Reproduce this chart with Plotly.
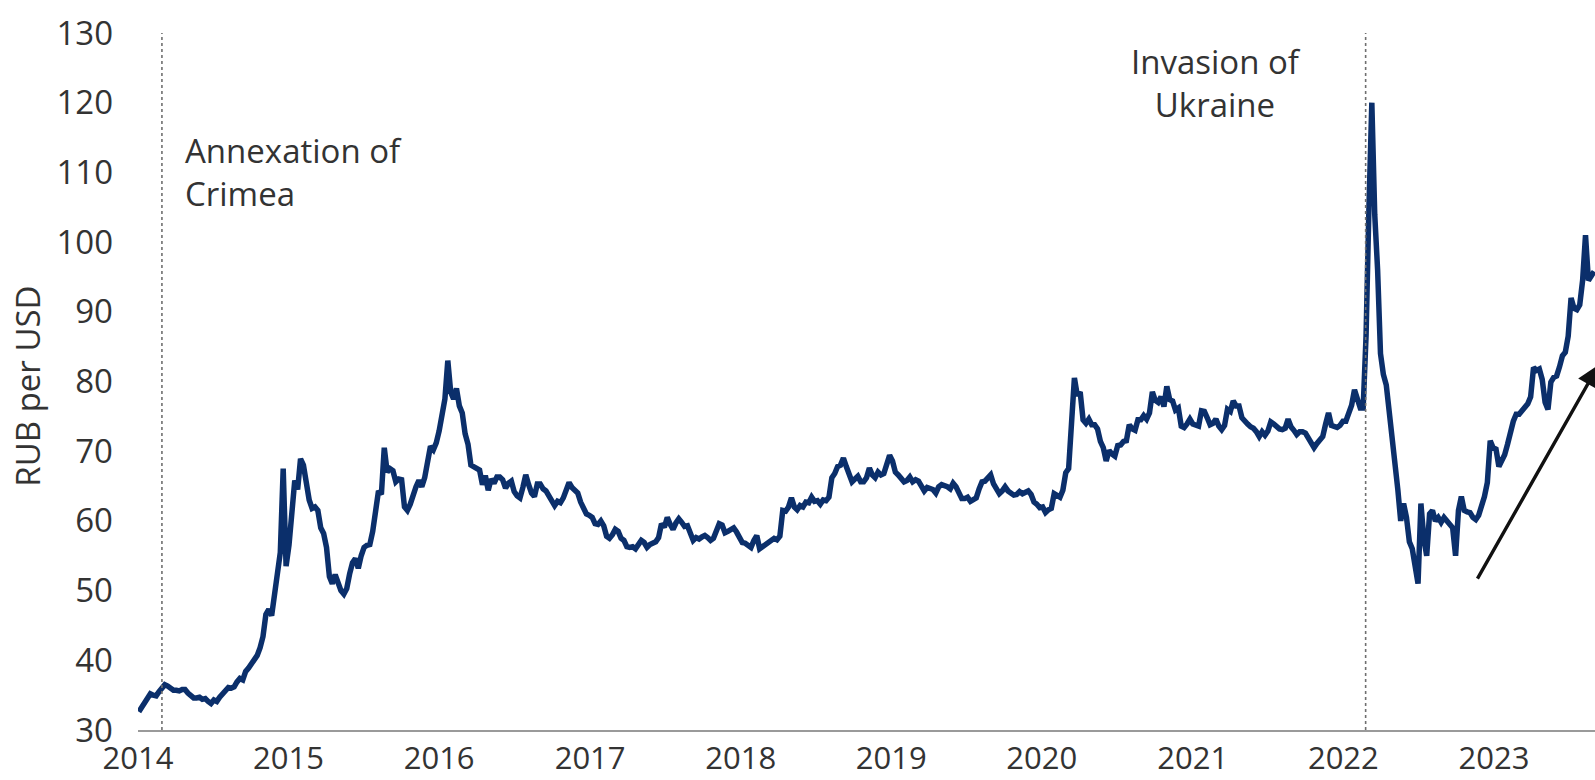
import pandas as pd
import plotly.graph_objects as go

# Weekly (Friday) RUB per USD readings, one list per calendar year
rub_2014 = [32.6, 33.2, 33.8, 34.6, 35.2,
            35.0, 34.9, 35.5, 36.0,
            36.5, 36.3, 36.0, 35.7,
            35.7, 35.6, 35.8, 35.8,
            35.3, 35.0, 34.6, 34.6, 34.7,
            34.4, 34.5, 34.1, 33.8,
            34.3, 34.1, 34.7, 35.2,
            35.7, 36.1, 36.0, 36.2, 36.9,
            37.4, 37.2, 38.4, 38.9,
            39.6, 40.1, 40.7, 41.8, 43.4,
            46.6, 47.3, 46.4, 49.3,
            53.4, 55.5, 67.5, 53.5]
rub_2015 = [56.5, 62.5, 65.8, 64.5, 68.9,
            68.0, 65.5, 63.0, 61.8,
            62.0, 61.5, 59.0, 58.2,
            56.2, 52.0, 51.0, 52.3,
            51.2, 50.0, 49.5, 50.3, 52.4,
            54.0, 54.6, 53.2, 55.0,
            56.2, 56.5, 56.6, 58.5, 61.5,
            64.3, 63.8, 70.5, 67.0,
            67.5, 67.2, 65.6, 66.0,
            65.9, 62.0, 61.5, 62.4, 63.9,
            64.9, 65.8, 64.9, 66.2,
            68.9, 70.7, 70.2, 71.2]
rub_2016 = [72.9, 75.0, 77.5, 83.0, 78.5,
            77.5, 79.0, 76.5, 75.5,
            72.5, 71.0, 68.0, 67.8,
            67.6, 67.3, 65.2, 66.5, 64.4,
            66.0, 65.4, 66.3, 66.3,
            65.9, 64.7, 65.4, 65.7,
            64.2, 63.6, 63.3, 64.8, 66.6,
            65.2, 64.0, 63.5, 65.3,
            65.3, 64.6, 64.3, 63.6, 63.2,
            62.2, 62.8, 62.6, 63.3,
            64.4, 65.5, 64.8, 64.5,
            64.0, 62.7, 61.8, 61.0, 60.8]
rub_2017 = [60.5, 59.6, 59.5, 60.0,
            59.3, 57.8, 57.5, 58.0,
            58.8, 58.5, 57.5, 57.2, 56.3,
            56.2, 56.3, 56.0, 56.7,
            57.2, 56.9, 56.2, 56.6,
            56.8, 57.0, 57.6, 59.6, 59.1,
            60.5, 59.5, 58.8, 59.7,
            60.3, 59.8, 59.2, 59.3,
            58.2, 57.2, 57.6, 57.4, 57.7,
            57.9, 57.6, 57.2, 57.5,
            58.6, 59.6, 59.4, 58.3,
            58.5, 58.8, 59.0, 58.4, 57.7]
rub_2018 = [56.9, 56.8, 56.6, 56.2,
            57.2, 57.9, 56.0, 56.3,
            56.7, 56.8, 57.3, 57.5, 57.3,
            57.8, 61.5, 61.4, 62.0,
            63.3, 62.0, 61.6, 62.2,
            62.0, 62.7, 62.6, 63.4, 62.8,
            62.9, 62.4, 63.0, 62.9,
            63.4, 66.2, 66.8, 67.8, 68.0,
            69.0, 67.8, 66.9, 65.6,
            66.0, 66.4, 65.6, 65.6,
            66.2, 67.6, 66.6, 66.2, 67.0,
            66.6, 66.8, 68.0, 69.4]
rub_2019 = [68.6, 67.0, 66.6, 66.2,
            65.6, 65.8, 66.3, 65.6,
            65.9, 65.7, 64.8, 64.3, 64.8,
            64.7, 64.5, 64.0, 64.9,
            65.2, 65.1, 64.9, 64.6, 65.4,
            64.9, 64.2, 63.2, 63.2,
            63.4, 62.8, 63.0, 63.3,
            64.6, 65.6, 65.7, 66.3, 66.6,
            65.3, 64.5, 63.9, 64.3,
            64.9, 64.3, 63.9, 63.7,
            63.8, 64.2, 63.9, 64.2, 64.3,
            63.8, 62.7, 62.4, 61.9]
rub_2020 = [62.0, 61.2, 61.6, 61.8, 63.9,
            63.6, 63.4, 64.4, 66.9,
            67.5, 74.0, 80.5, 78.0,
            78.5, 74.5, 74.0, 74.6,
            73.8, 73.8, 73.2, 71.4, 70.5,
            68.6, 70.1, 69.6, 69.3,
            70.8, 70.9, 71.4, 71.5, 73.8,
            73.2, 73.0, 74.5, 74.5,
            75.1, 74.6, 75.5, 78.5,
            77.3, 77.0, 77.8, 76.4, 79.3,
            77.4, 77.2, 75.9, 76.2,
            73.6, 73.4, 73.9, 74.6]
rub_2021 = [73.9, 73.8, 73.6, 75.8, 75.7,
            74.8, 73.8, 74.0, 74.6,
            73.6, 73.1, 73.7, 76.0,
            75.7, 77.2, 76.5, 76.5, 74.8,
            74.2, 73.9, 73.5, 73.3,
            72.8, 72.1, 72.8, 72.3,
            72.9, 74.2, 73.9, 73.5, 73.2,
            73.1, 73.3, 74.6, 73.5,
            73.0, 72.4, 72.8, 72.8,
            72.6, 71.8, 71.3, 70.5, 71.1,
            71.6, 72.1, 73.9, 75.5,
            73.7, 73.6, 73.4, 73.7, 74.3]
rub_2022 = [74.3, 75.6, 76.6, 78.8,
            77.2, 76.2, 76.2, 86.5,
            105.0, 120.0, 104.0, 96.0,
            84.0, 81.0, 79.5, 76.0, 72.0,
            68.0, 64.5, 60.0, 62.5,
            60.5, 57.0, 56.0, 53.0,
            51.0, 62.5, 57.5, 55.0, 61.0,
            61.5, 60.0, 60.5, 59.8,
            60.5, 60.0, 59.5, 59.0, 55.0,
            61.5, 63.5, 61.5, 61.3,
            61.2, 60.5, 60.2, 60.8,
            62.0, 63.5, 65.5, 71.5, 70.5]
rub_2023 = [70.3, 67.8, 68.7, 69.5,
            71.0, 72.8, 74.3, 75.3,
            75.3, 75.8, 76.2, 76.8, 77.8,
            82.0, 81.6, 81.8, 80.3,
            77.0, 76.0, 79.9, 80.6,
            80.8, 82.1, 83.7, 84.2, 86.5,
            92.0, 90.5, 90.3, 91.0,
            94.5, 101.0, 94.5, 95.0,
            95.8]

yearly = {2014: rub_2014, 2015: rub_2015, 2016: rub_2016, 2017: rub_2017,
          2018: rub_2018, 2019: rub_2019, 2020: rub_2020, 2021: rub_2021,
          2022: rub_2022, 2023: rub_2023}

dates, values = [], []
for year, vals in yearly.items():
    dates.extend(pd.date_range(f"{year}-01-01", periods=len(vals), freq="W-FRI"))
    values.extend(vals)

year_ticks = [f"{y}-01-01" for y in range(2014, 2024)]
year_labels = [str(y) for y in range(2014, 2024)]
y_ticks = list(range(30, 131, 10))

event_dates = ["2014-02-28", "2022-02-24"]
event_labels = ["Annexation of<br>Crimea", "Invasion of<br>Ukraine"]

NAVY = "#0b2f6b"
TEXT = "#333333"
FONT = "Open Sans"

fig = go.Figure()
fig.add_trace(go.Scatter(x=dates, y=values, mode="lines",
                         line=dict(color=NAVY, width=5.5), hoverinfo="skip",
                         showlegend=False))

# Dotted event markers spanning the full value range
for d in event_dates:
    fig.add_shape(type="line", xref="x", yref="y", x0=d, x1=d, y0=30, y1=130,
                  line=dict(color="#6f6f6f", width=1.6, dash="dot"), layer="above")

# Event labels
fig.add_annotation(x="2014-04-20", y=110.0, xref="x", yref="y",
                   text=event_labels[0], showarrow=False, xanchor="left",
                   yanchor="middle", align="left",
                   font=dict(family=FONT, size=33, color=TEXT))
fig.add_annotation(x="2021-02-27", y=122.8, xref="x", yref="y",
                   text=event_labels[1], showarrow=False, xanchor="center",
                   yanchor="middle", align="center",
                   font=dict(family=FONT, size=33, color=TEXT))

# Trend arrow through the 2023 depreciation
fig.add_annotation(x="2023-09-12", y=82.4, ax="2022-11-20", ay=51.5,
                   xref="x", yref="y", axref="x", ayref="y",
                   text="", showarrow=True, arrowhead=2, arrowsize=1.3,
                   arrowwidth=3.4, arrowcolor="#111111")

# Vertical axis title
fig.add_annotation(x=-0.0755, y=0.494, xref="paper", yref="paper",
                   text="RUB per USD", textangle=-90, showarrow=False,
                   xanchor="center", yanchor="middle",
                   font=dict(family=FONT, size=33, color=TEXT))

fig.update_layout(
    width=1595, height=780,
    margin=dict(l=138, r=0, t=33, b=50, autoexpand=False),
    paper_bgcolor="white", plot_bgcolor="white",
    font=dict(family=FONT, color=TEXT),
    xaxis=dict(range=["2014-01-01", "2023-09-03"], tickvals=year_ticks,
               ticktext=year_labels, showgrid=False, zeroline=False,
               showline=True, linecolor="#9a9a9a", linewidth=2,
               ticks="", tickfont=dict(family=FONT, size=31, color=TEXT),
               ticklabelstandoff=0, automargin=False),
    yaxis=dict(range=[30, 130], tickvals=y_ticks, showgrid=False,
               zeroline=False, showline=False, ticks="",
               tickfont=dict(family=FONT, size=33, color=TEXT),
               ticklabelstandoff=24, automargin=False),
)

fig.write_html("out.html")
